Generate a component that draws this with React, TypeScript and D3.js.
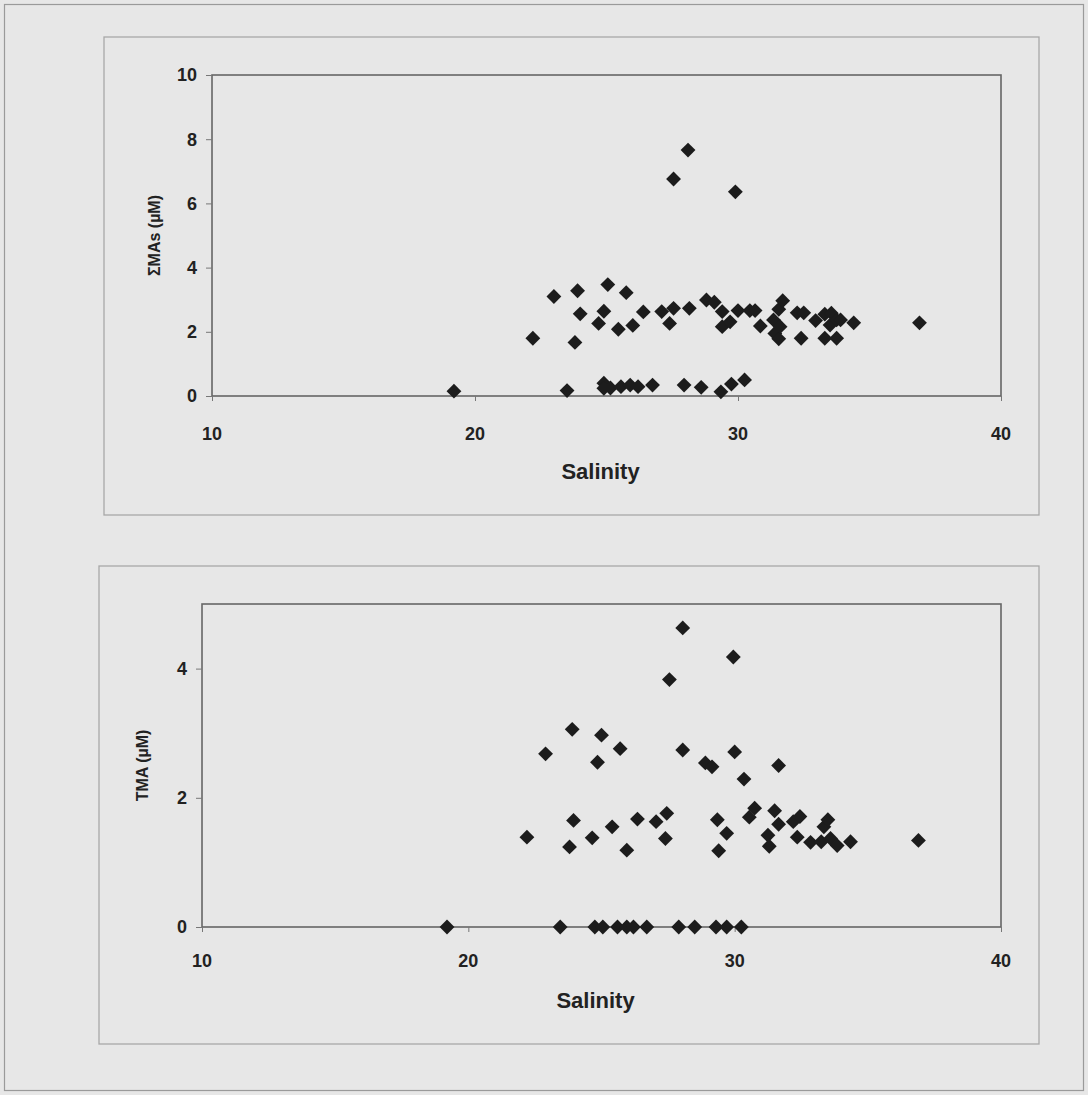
import React, { useEffect, useRef } from "react";
import * as d3 from "d3";

// salinity vs total methylamines (top panel)
const maSalinity = [19.2, 22.2, 23.0, 23.5, 23.8, 23.9, 24.0, 24.7, 24.9, 24.9, 24.9, 25.05, 25.15, 25.45, 25.55, 25.75, 25.9, 26.0, 26.2, 26.4, 26.75, 27.1, 27.4, 27.55, 27.55, 27.95, 28.1, 28.15, 28.6, 28.8, 29.1, 29.35, 29.4, 29.4, 29.7, 29.75, 29.9, 30.0, 30.25, 30.45, 30.65, 30.85, 31.35, 31.4, 31.55, 31.55, 31.6, 31.7, 32.25, 32.5, 32.4, 32.95, 33.3, 33.55, 33.5, 33.75, 33.9, 33.3, 33.75, 34.4, 36.9];
const maValues = [0.15, 1.8, 3.1, 0.17, 1.67, 3.28, 2.56, 2.26, 2.64, 0.4, 0.24, 3.47, 0.25, 2.08, 0.29, 3.22, 0.34, 2.2, 0.29, 2.62, 0.34, 2.63, 2.26, 2.73, 6.76, 0.34, 7.66, 2.73, 0.27, 2.99, 2.92, 0.13, 2.63, 2.16, 2.31, 0.37, 6.36, 2.66, 0.5, 2.66, 2.66, 2.18, 2.37, 1.95, 2.7, 1.78, 2.16, 2.97, 2.59, 2.59, 1.8, 2.35, 2.55, 2.58, 2.21, 2.37, 2.37, 1.8, 1.8, 2.28, 2.28];

// salinity vs TMA (bottom panel)
const tmaSalinity = [19.2, 22.2, 22.9, 23.45, 23.8, 23.9, 23.95, 24.65, 24.75, 24.85, 25.0, 25.05, 25.4, 25.6, 25.7, 25.95, 25.95, 26.2, 26.35, 26.7, 27.05, 27.4, 27.45, 27.55, 27.9, 28.05, 28.05, 28.5, 28.9, 29.15, 29.3, 29.35, 29.4, 29.7, 29.7, 29.95, 30.0, 30.25, 30.35, 30.55, 30.75, 31.25, 31.3, 31.5, 31.65, 31.65, 32.2, 32.35, 32.45, 32.85, 33.25, 33.35, 33.5, 33.6, 33.85, 34.35, 36.9];
const tmaValues = [0, 1.39, 2.68, 0, 1.24, 3.06, 1.65, 1.38, 0, 2.55, 2.97, 0, 1.55, 0, 2.76, 1.19, 0, 0, 1.67, 0, 1.63, 1.37, 1.76, 3.83, 0, 4.63, 2.74, 0, 2.54, 2.48, 0, 1.66, 1.18, 1.45, 0, 4.18, 2.71, 0, 2.29, 1.7, 1.84, 1.42, 1.25, 1.8, 2.5, 1.59, 1.63, 1.39, 1.71, 1.31, 1.32, 1.55, 1.66, 1.37, 1.26, 1.32, 1.34];

const xTicks = [10, 20, 30, 40];
const maTicks = [0, 2, 4, 6, 8, 10];
const tmaTicks = [0, 2, 4];

const W = 1088, H = 1095;
const font = "'Liberation Sans', Arial, sans-serif";

export default function App() {
  const ref = useRef<SVGSVGElement>(null);

  useEffect(() => {
    const svg = d3.select(ref.current);
    svg.selectAll("*").remove();

    svg.append("rect").attr("width", W).attr("height", H).attr("fill", "#e7e7e7");
    svg.append("rect")
      .attr("x", 4.5).attr("y", 4.5).attr("width", W - 9).attr("height", H - 9)
      .attr("fill", "none").attr("stroke", "#9a9a9a").attr("stroke-width", 1.2);

    const panel = (opt: {
      box: [number, number, number, number];
      plot: [number, number, number, number];
      xs: number[]; ys: number[]; yMax: number; yTicks: number[];
      yLabel: string; yLabelX: number; xTickY: number; xTitleY: number;
    }) => {
      const [bx, by, bw, bh] = opt.box;
      const [l, t, r, b] = opt.plot;
      svg.append("rect")
        .attr("x", bx).attr("y", by).attr("width", bw).attr("height", bh)
        .attr("fill", "none").attr("stroke", "#a8a8a8").attr("stroke-width", 1.3);

      const x = d3.scaleLinear().domain([10, 40]).range([l, r]);
      const y = d3.scaleLinear().domain([0, opt.yMax]).range([b, t]);
      const g = svg.append("g");

      g.append("rect")
        .attr("x", l).attr("y", t).attr("width", r - l).attr("height", b - t)
        .attr("fill", "none").attr("stroke", "#666").attr("stroke-width", 1.6);

      g.append("g").attr("transform", `translate(0,${b})`)
        .call(d3.axisBottom(x).tickValues(xTicks).tickSize(5).tickFormat(() => ""))
        .call(a => a.select(".domain").remove())
        .selectAll("line").attr("stroke", "#777");
      g.append("g").attr("transform", `translate(${l},0)`)
        .call(d3.axisLeft(y).tickValues(opt.yTicks).tickSize(6).tickFormat(() => ""))
        .call(a => a.select(".domain").remove())
        .selectAll("line").attr("stroke", "#777");

      g.selectAll(".xl").data(xTicks).join("text")
        .attr("x", d => x(d)).attr("y", opt.xTickY)
        .attr("text-anchor", "middle").attr("font-family", font)
        .attr("font-weight", "bold").attr("font-size", 18).attr("fill", "#222")
        .text(d => d);
      g.selectAll(".yl").data(opt.yTicks).join("text")
        .attr("x", l - 15).attr("y", d => y(d)).attr("dy", "0.35em")
        .attr("text-anchor", "end").attr("font-family", font)
        .attr("font-weight", "bold").attr("font-size", 18).attr("fill", "#222")
        .text(d => d);

      g.append("text")
        .attr("x", (l + r) / 2 - 6).attr("y", opt.xTitleY)
        .attr("text-anchor", "middle").attr("font-family", font)
        .attr("font-weight", "bold").attr("font-size", 22).attr("fill", "#222")
        .text("Salinity");
      g.append("text")
        .attr("transform", `translate(${opt.yLabelX},${(t + b) / 2}) rotate(-90)`)
        .attr("text-anchor", "middle").attr("font-family", font)
        .attr("font-weight", "bold").attr("font-size", 16).attr("fill", "#222")
        .text(opt.yLabel);

      const diamond = d3.symbol().type(d3.symbolSquare).size(110);
      g.selectAll(".pt").data(opt.xs.map((s, i) => [s, opt.ys[i]]))
        .join("path")
        .attr("d", diamond)
        .attr("transform", d => `translate(${x(d[0])},${y(d[1])}) rotate(45)`)
        .attr("fill", "#1c1c1c");
    };

    panel({
      box: [104, 37, 935, 478], plot: [212, 75, 1001, 396],
      xs: maSalinity, ys: maValues, yMax: 10, yTicks: maTicks,
      yLabel: "ΣMAs (µM)", yLabelX: 160, xTickY: 440, xTitleY: 479,
    });
    panel({
      box: [99, 566, 940, 478], plot: [202, 604, 1001, 927],
      xs: tmaSalinity, ys: tmaValues, yMax: 5, yTicks: tmaTicks,
      yLabel: "TMA (µM)", yLabelX: 148, xTickY: 967, xTitleY: 1008,
    });
  }, []);

  return (
    <div style={{ position: "absolute", left: 0, top: 0 }}>
      <svg ref={ref} width={W} height={H} style={{ display: "block" }} />
    </div>
  );
}
